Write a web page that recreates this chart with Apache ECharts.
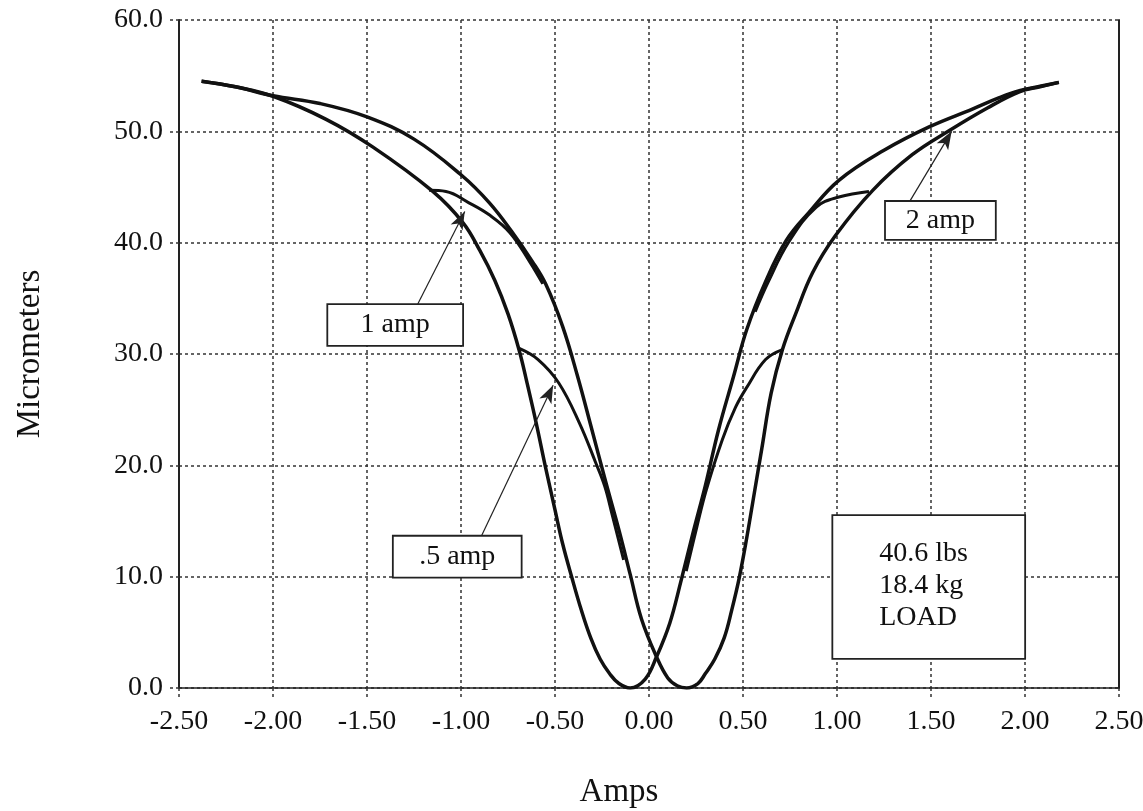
<!DOCTYPE html>
<html>
<head>
<meta charset="utf-8">
<script src="https://cdn.jsdelivr.net/npm/echarts@6/dist/echarts.min.js"></script>
<style>
  html, body { margin: 0; background: #fff; }
  #chart { width: 1143px; height: 811px; }
</style>
</head>
<body>
<div id="chart"></div>
<script>
// major (2 amp) loop, current going down: right end -> bottom -> left end
const branchDown = [
  [2.18, 54.4], [2.08, 54.05], [1.97, 53.65], [1.86, 53.0], [1.72, 52.0], [1.49, 50.4],
  [1.25, 48.3], [1.01, 45.6], [0.85, 42.7], [0.73, 40.2], [0.62, 36.5], [0.52, 32.2],
  [0.45, 28.0], [0.37, 23.2], [0.30, 18.2], [0.235, 14.0], [0.17, 9.6], [0.11, 5.8],
  [0.04, 2.8], [-0.02, 0.8], [-0.10, 0.0], [-0.16, 0.4], [-0.21, 1.3], [-0.26, 2.6],
  [-0.31, 4.5], [-0.36, 7.0], [-0.41, 9.9], [-0.46, 13.0], [-0.50, 16.0], [-0.55, 19.8],
  [-0.60, 23.8], [-0.65, 27.5], [-0.69, 30.3], [-0.75, 33.6], [-0.82, 36.6], [-0.90, 39.3],
  [-0.99, 41.8], [-1.15, 44.6], [-1.47, 48.6], [-1.72, 51.1], [-2.0, 53.15], [-2.2, 54.0],
  [-2.38, 54.5]
];
// major loop, current going up: left end -> bottom -> right end
const branchUp = [
  [-2.38, 54.5], [-2.2, 54.0], [-2.0, 53.2], [-1.75, 52.5], [-1.5, 51.3], [-1.25, 49.3],
  [-1.0, 46.1], [-0.85, 43.6], [-0.73, 41.0], [-0.62, 38.3], [-0.55, 36.3], [-0.46, 32.5],
  [-0.38, 28.0], [-0.31, 23.6], [-0.23, 18.5], [-0.16, 14.2], [-0.10, 10.2], [-0.04, 6.2],
  [0.04, 2.8], [0.10, 0.9], [0.15, 0.2], [0.20, 0.0], [0.26, 0.4], [0.30, 1.3],
  [0.35, 2.6], [0.40, 4.5], [0.44, 7.0], [0.48, 9.9], [0.52, 13.5], [0.56, 17.5],
  [0.60, 21.5], [0.65, 26.5], [0.71, 30.4], [0.78, 33.6], [0.87, 37.3], [0.99, 40.6],
  [1.19, 44.7], [1.40, 47.9], [1.60, 50.1], [1.80, 52.1], [1.97, 53.55], [2.08, 54.0],
  [2.18, 54.4]
];
// 1 amp minor loop turn-over arcs
const arc1Left = [[-1.17, 44.7], [-1.08, 44.6], [-0.96, 43.6], [-0.85, 42.5], [-0.74, 40.9], [-0.635, 38.3], [-0.565, 36.3]];
const arc1Right = [[1.17, 44.6], [1.01, 44.1], [0.89, 43.2], [0.745, 40.1], [0.635, 36.5], [0.565, 33.8]];
// .5 amp minor loop turn-over arcs
const arc05Left = [[-0.69, 30.5], [-0.59, 29.5], [-0.48, 27.4], [-0.37, 23.8], [-0.285, 20.3], [-0.235, 18.1], [-0.195, 15.5], [-0.135, 11.5]];
const arc05Right = [[0.71, 30.4], [0.62, 29.5], [0.52, 27.0], [0.46, 25.2], [0.39, 22.3], [0.305, 17.8], [0.255, 14.5], [0.198, 10.5]];

// callouts: box centre, leader start, arrow tip (data units)
const ampNames = ['1 amp', '2 amp', '.5 amp'];
const ampBoxAt = [[-1.35, 32.6], [1.55, 42.0], [-1.02, 11.8]];
const ampFrom = [[-1.23, 34.5], [1.39, 43.8], [-0.89, 13.7]];
const ampTo = [[-0.98, 42.8], [1.61, 50.0], [-0.51, 27.2]];
const loadText = ['40.6 lbs', '18.4 kg', 'LOAD'];
const loadCorner = [0.98, 15.45];

const boxW = { '1 amp': 137, '2 amp': 112, '.5 amp': 130 };
const boxH = { '1 amp': 43, '2 amp': 40, '.5 amp': 43 };

const serif = 'Liberation Serif, Times New Roman, serif';
const ink = '#111';

const chart = echarts.init(document.getElementById('chart'));

function curve(data, w) {
  return {
    type: 'line', data: data, smooth: 0.4, showSymbol: false, symbol: 'none',
    lineStyle: { color: ink, width: w }, silent: true, z: 3
  };
}

const gridLine = { show: true, lineStyle: { color: '#333', width: 1.5, type: [3, 3] } };

chart.setOption({
  animation: false,
  backgroundColor: '#fff',
  grid: { left: 179, right: 24, top: 20, bottom: 123, outerBoundsMode: 'none', containLabel: false },
  xAxis: {
    type: 'value', min: -2.5, max: 2.5, interval: 0.5,
    name: 'Amps', nameLocation: 'middle', nameGap: 88,
    nameTextStyle: { fontFamily: serif, fontSize: 33, color: ink, padding: [0, 60, 0, 0] },
    axisLine: { show: true, onZero: false, lineStyle: { color: '#222', width: 1.5 } },
    axisTick: { show: true, length: 10, lineStyle: { color: '#333', width: 1.5, type: [3, 3] } },
    axisLabel: { fontFamily: serif, fontSize: 28, color: ink, margin: 20, formatter: v => v.toFixed(2) },
    splitLine: gridLine
  },
  yAxis: [{
    type: 'value', min: 0, max: 60, interval: 10,
    name: 'Micrometers', nameLocation: 'middle', nameGap: 132,
    nameTextStyle: { fontFamily: serif, fontSize: 33, color: ink },
    axisLine: { show: true, onZero: false, lineStyle: { color: '#222', width: 2 } },
    axisTick: { show: true, length: 10, lineStyle: { color: '#333', width: 1.5, type: [3, 3] } },
    axisLabel: { fontFamily: serif, fontSize: 28, color: ink, margin: 16, formatter: v => v.toFixed(1) },
    splitLine: gridLine
  }, {
    type: 'value', min: 0, max: 60, position: 'right',
    axisLine: { show: true, onZero: false, lineStyle: { color: '#222', width: 2 } },
    axisTick: { show: false }, axisLabel: { show: false }, splitLine: { show: false }
  }],
  series: [
    curve(branchDown, 3.5),
    curve(branchUp, 3.5),
    curve(arc1Left, 3),
    curve(arc1Right, 3),
    curve(arc05Left, 3),
    curve(arc05Right, 3),
    {
      type: 'scatter', symbolSize: 0, silent: true, z: 5,
      itemStyle: { opacity: 1 },
      data: ampNames.map((n, i) => ({
        value: ampBoxAt[i],
        label: {
          show: true, formatter: n, position: [0, 0], align: 'center', verticalAlign: 'middle',
          width: boxW[n] - 3, height: boxH[n] - 3, lineHeight: boxH[n] - 3,
          fontFamily: serif, fontSize: 28, color: ink,
          backgroundColor: '#fff', borderColor: '#222', borderWidth: 1.8
        }
      })),
      markLine: {
        silent: true, symbol: ['none', 'arrow'], symbolSize: [10, 18],
        label: { show: false },
        lineStyle: { color: '#222', width: 1.2, type: 'solid', opacity: 1 },
        itemStyle: { color: '#111' },
        data: ampFrom.map((p, i) => [{ coord: p }, { coord: ampTo[i] }])
      }
    },
    {
      type: 'scatter', symbolSize: 0, silent: true, z: 5,
      itemStyle: { opacity: 1 },
      data: [{
        value: loadCorner,
        label: {
          show: true, formatter: loadText.join('\n'), position: [0, 0],
          align: 'left', verticalAlign: 'top',
          width: 145, height: 120, lineHeight: 32, padding: [22, 0, 0, 46],
          fontFamily: serif, fontSize: 28, color: ink,
          backgroundColor: '#fff', borderColor: '#222', borderWidth: 1.8
        }
      }]
    }
  ]
});
</script>
</body>
</html>
